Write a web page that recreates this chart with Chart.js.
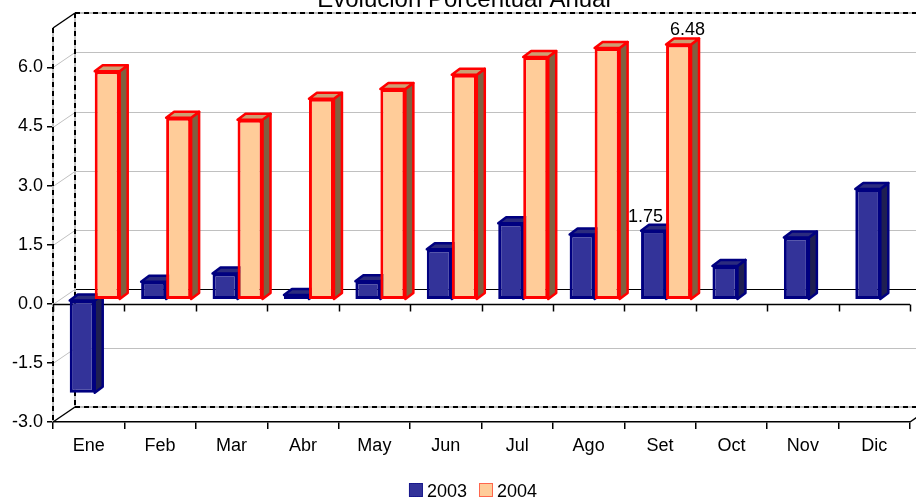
<!DOCTYPE html>
<html>
<head>
<meta charset="utf-8">
<script src="https://cdn.jsdelivr.net/npm/chart.js@4.4.0/dist/chart.umd.min.js"></script>
<style>
  html, body { margin: 0; padding: 0; background: #fff; }
  #wrap { width: 916px; height: 498px; }
</style>
</head>
<body>
<div id="wrap"><canvas id="chart" width="916" height="498"></canvas></div>
<script>
const categories = ['Ene', 'Feb', 'Mar', 'Abr', 'May', 'Jun', 'Jul', 'Ago', 'Set', 'Oct', 'Nov', 'Dic'];
const values2003 = [-2.36, 0.46, 0.67, 0.12, 0.47, 1.28, 1.94, 1.66, 1.75, 0.86, 1.58, 2.81];
const values2004 = [5.80, 4.62, 4.57, 5.10, 5.35, 5.71, 6.16, 6.39, 6.48, null, null, null];
const yTicks = [-3.0, -1.5, 0.0, 1.5, 3.0, 4.5, 6.0];
const seriesNames = ['2003', '2004'];
// which points carry a value label: [dataset, index]
const labelledPoints = [[0, 8], [1, 8]];
const titleText = 'Evolución Porcentual Anual';

const FONT = '"Liberation Sans", Arial, sans-serif';
const WALL = { dx: 22, dy: -15 };   // depth of the back wall
const BAR = { dx: 8, dy: -6 };      // depth of one bar
const SHIFT = { dx: 6, dy: -4 };    // bars stand a bit behind the front plane

const colors = [
  { front: '#333399', border: '#000080', top: '#2B2B7E', side: '#1F1F52' },
  { front: '#FFCC99', border: '#FF0000', top: '#CC9F73', side: '#806040' }
];

function line(ctx, x1, y1, x2, y2) {
  ctx.beginPath(); ctx.moveTo(x1, y1); ctx.lineTo(x2, y2); ctx.stroke();
}
function dashed(ctx, x1, y1, x2, y2) {
  ctx.save();
  ctx.lineWidth = 2;
  ctx.strokeStyle = '#c0c0c0';
  line(ctx, x1, y1, x2, y2);
  ctx.strokeStyle = '#000';
  ctx.setLineDash([5, 4]);
  line(ctx, x1, y1, x2, y2);
  ctx.restore();
}

const threeD = {
  id: 'threeD',
  beforeDatasetsDraw(chart) {
    const ctx = chart.ctx;
    const { left, right, top, bottom } = chart.chartArea;
    const y = chart.scales.y;
    ctx.save();
    // back wall grid
    ctx.lineWidth = 1;
    yTicks.forEach(v => {
      if (v === yTicks[0]) return;
      const py = Math.round(y.getPixelForValue(v)) + 0.5;
      ctx.strokeStyle = '#c0c0c0';
      line(ctx, left, py, left + WALL.dx, py + WALL.dy);
      ctx.strokeStyle = v === 0 ? '#000' : '#c0c0c0';
      line(ctx, left + WALL.dx, py + WALL.dy, right + WALL.dx, py + WALL.dy);
    });
    // walls edges
    dashed(ctx, left + WALL.dx, top + WALL.dy, left + WALL.dx, bottom + WALL.dy);
    dashed(ctx, left + WALL.dx, top + WALL.dy, right + WALL.dx, top + WALL.dy);
    dashed(ctx, left + WALL.dx, bottom + WALL.dy, right + WALL.dx, bottom + WALL.dy);
    dashed(ctx, left, top, left, bottom);
    ctx.strokeStyle = '#000';
    ctx.lineWidth = 1.5;
    line(ctx, left, top, left + WALL.dx, top + WALL.dy);
    line(ctx, left, bottom, left + WALL.dx, bottom + WALL.dy);
    line(ctx, right, bottom, right + WALL.dx, bottom + WALL.dy);
    // front zero line with ticks
    const zy = Math.round(y.getPixelForValue(0)) + 0.5;
    line(ctx, left, zy, right, zy);
    const step = (right - left) / categories.length;
    for (let i = 0; i <= categories.length; i++) {
      const px = Math.round(left + i * step) + 0.5;
      line(ctx, px, zy, px, zy + 7);
    }
    ctx.restore();
  },
  // bars are drawn below, in series order, so each 3D box overlaps correctly
  beforeDatasetDraw() { return false; },
  afterDatasetsDraw(chart) {
    const ctx = chart.ctx;
    ctx.save();
    ctx.translate(SHIFT.dx, SHIFT.dy);
    chart.data.datasets.forEach((ds, d) => {
      const c = colors[d];
      chart.getDatasetMeta(d).data.forEach((el, i) => {
        if (ds.data[i] == null) return;
        el.draw(ctx);
        const p = el.getProps(['x', 'y', 'base', 'width'], true);
        const L = p.x - p.width / 2, R = p.x + p.width / 2;
        const T = Math.min(p.y, p.base), B = Math.max(p.y, p.base);
        ctx.save();
        ctx.lineWidth = 2.5;
        ctx.lineJoin = 'round';
        ctx.strokeStyle = c.border;
        ctx.fillStyle = c.side;
        ctx.beginPath();
        ctx.moveTo(R, T); ctx.lineTo(R + BAR.dx, T + BAR.dy);
        ctx.lineTo(R + BAR.dx, B + BAR.dy); ctx.lineTo(R, B);
        ctx.closePath(); ctx.fill(); ctx.stroke();
        ctx.fillStyle = c.top;
        ctx.beginPath();
        ctx.moveTo(L, T); ctx.lineTo(L + BAR.dx, T + BAR.dy);
        ctx.lineTo(R + BAR.dx, T + BAR.dy); ctx.lineTo(R, T);
        ctx.closePath(); ctx.fill(); ctx.stroke();
        ctx.restore();
      });
    });
    ctx.restore();

    ctx.save();
    ctx.fillStyle = '#000';
    ctx.font = '18px ' + FONT;
    ctx.textAlign = 'center';
    ctx.textBaseline = 'alphabetic';
    labelledPoints.forEach(([d, i]) => {
      const el = chart.getDatasetMeta(d).data[i];
      const v = chart.data.datasets[d].data[i];
      const off = d === 0 ? -8 : 9;
      ctx.fillText(v.toFixed(2), el.x + SHIFT.dx + off, el.y + SHIFT.dy + BAR.dy - 3);
    });
    // title (partly outside the top)
    ctx.font = '24px ' + FONT;
    ctx.fillText(titleText, 464, 7);
    // legend
    ctx.font = '18px ' + FONT;
    ctx.textAlign = 'left';
    const box = 14, gapText = 4, gapItem = 12;
    const widths = seriesNames.map(n => box + gapText + ctx.measureText(n).width);
    const total = widths.reduce((a, b) => a + b, 0) + gapItem;
    let lx = 473 - total / 2;
    seriesNames.forEach((n, i) => {
      ctx.fillStyle = colors[i].front;
      ctx.fillRect(lx, 483, box, box);
      ctx.strokeStyle = colors[i].border;
      ctx.lineWidth = 1;
      ctx.setLineDash([1, 1]);
      ctx.strokeRect(lx + 0.5, 483.5, box - 1, box - 1);
      ctx.setLineDash([]);
      ctx.fillStyle = '#000';
      ctx.fillText(n, lx + box + gapText, 497);
      lx += widths[i] + gapItem;
    });
    ctx.restore();
  }
};

new Chart(document.getElementById('chart'), {
  type: 'bar',
  data: {
    labels: categories,
    datasets: [
      { label: seriesNames[0], data: values2003 },
      { label: seriesNames[1], data: values2004 }
    ].map((d, i) => Object.assign(d, {
      backgroundColor: colors[i].front,
      borderColor: colors[i].border,
      borderWidth: 3,
      borderSkipped: false,
      barPercentage: 1.0,
      categoryPercentage: 0.7
    }))
  },
  options: {
    responsive: false,
    animation: false,
    devicePixelRatio: 1,
    layout: { padding: { left: 0, top: 28, right: 6, bottom: 0 } },
    plugins: { legend: { display: false }, tooltip: { enabled: false }, title: { display: false } },
    scales: {
      x: {
        offset: true,
        grid: { display: true, drawOnChartArea: false, drawTicks: true, tickLength: 7, color: '#000', lineWidth: 1.5, offset: true },
        border: { display: true, color: '#000', width: 1.5 },
        ticks: { color: '#000', font: { family: FONT, size: 18 }, padding: 6, maxRotation: 0 },
        afterFit(scale) { scale.height = 76; scale.paddingLeft = 0; scale.paddingRight = 0; }
      },
      y: {
        min: -3,
        max: 7,
        afterBuildTicks(scale) { scale.ticks = yTicks.map(v => ({ value: v })); },
        grid: { display: true, drawOnChartArea: false, drawTicks: true, tickLength: 6, color: '#000', lineWidth: 1.5 },
        border: { display: false },
        ticks: { color: '#000', font: { family: FONT, size: 18 }, padding: 4, callback: v => Number(v).toFixed(1) },
        afterFit(scale) { scale.width = 53; scale.paddingTop = 0; scale.paddingBottom = 0; }
      }
    }
  },
  plugins: [threeD]
});
</script>
</body>
</html>
